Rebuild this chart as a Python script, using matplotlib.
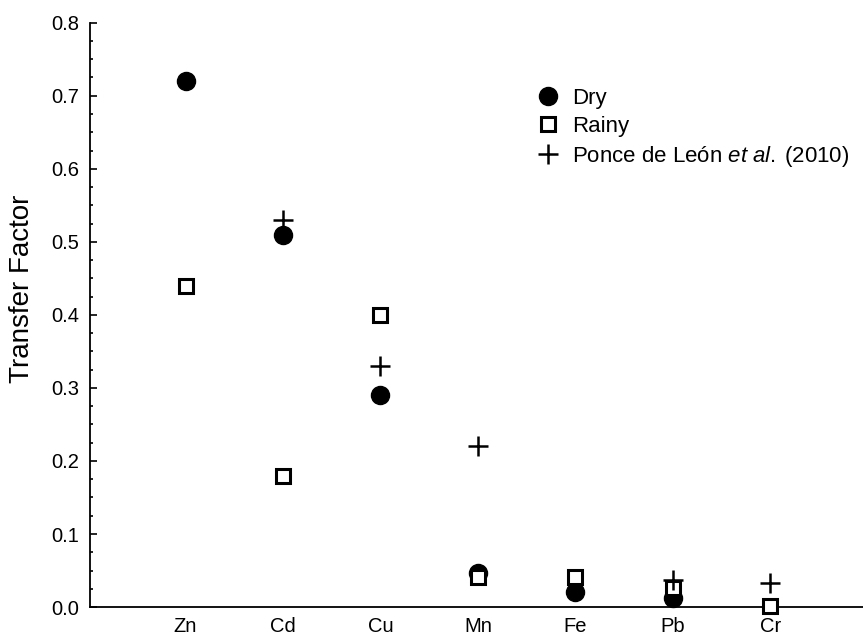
import numpy as np
import matplotlib.pyplot as plt
from matplotlib.ticker import MultipleLocator

elements = ['Zn', 'Cd', 'Cu', 'Mn', 'Fe', 'Pb', 'Cr']
dry = [0.72, 0.51, 0.29, 0.047, 0.02, 0.012, np.nan]
rainy = [0.44, 0.18, 0.40, 0.041, 0.041, 0.026, 0.002]
ponce = [np.nan, 0.53, 0.33, 0.22, np.nan, 0.037, 0.033]

plt.rcParams['font.family'] = ['Liberation Sans', 'DejaVu Sans']
plt.rcParams['mathtext.fontset'] = 'custom'
plt.rcParams['mathtext.rm'] = 'Liberation Sans'
plt.rcParams['mathtext.it'] = 'Liberation Sans:italic'


def main():
    x = np.arange(1, len(elements) + 1)

    fig = plt.figure(figsize=(8.63, 6.39), dpi=100)
    ax = fig.add_axes([0.1043, 0.050, 0.8957, 0.9145])

    ax.plot(x, dry, marker='o', linestyle='None', color='black',
            markersize=13, label='Dry', zorder=3, clip_on=False)
    ax.plot(x, rainy, marker='s', linestyle='None', markerfacecolor='white',
            markeredgecolor='black', markeredgewidth=2.2, markersize=10,
            label='Rainy', zorder=4, clip_on=False)
    ax.plot(x, ponce, marker='+', linestyle='None', color='black',
            markeredgewidth=1.8, markersize=14,
            label=r'Ponce de León $\mathit{et\ al.}$' + '\u2009(2010)',
            zorder=5, clip_on=False)

    ax.set_xlim(0.02, 7.95)
    ax.set_ylim(0, 0.8)
    ax.set_xticks(x)
    ax.set_xticklabels(elements)
    ax.tick_params(axis='x', length=0, pad=7, labelsize=14.5)

    ax.yaxis.set_major_locator(MultipleLocator(0.1))
    ax.yaxis.set_minor_locator(MultipleLocator(0.025))
    ax.set_yticks(np.arange(0, 0.81, 0.1))
    ax.set_yticklabels(['%.1f' % v for v in np.arange(0, 0.81, 0.1)])
    ax.tick_params(axis='y', which='major', direction='in', length=5, width=1.2,
                   pad=8, labelsize=14.5)
    ax.tick_params(axis='y', which='minor', direction='in', length=2, width=1.2)

    for side in ['top', 'right']:
        ax.spines[side].set_visible(False)
    ax.spines['left'].set_linewidth(1.3)
    ax.spines['bottom'].set_linewidth(1.3)

    ax.set_ylabel('Transfer Factor', fontsize=20)
    ax.yaxis.set_label_coords(-0.071, 0.545)

    ax.legend(loc='upper left', bbox_to_anchor=(0.622, 0.862),
              bbox_transform=fig.transFigure, frameon=False, fontsize=16,
              handlelength=1.0, handletextpad=0.6, labelspacing=0.3,
              borderaxespad=0, borderpad=0)

    fig.savefig('out.png', dpi=100)


if __name__ == '__main__': main()
